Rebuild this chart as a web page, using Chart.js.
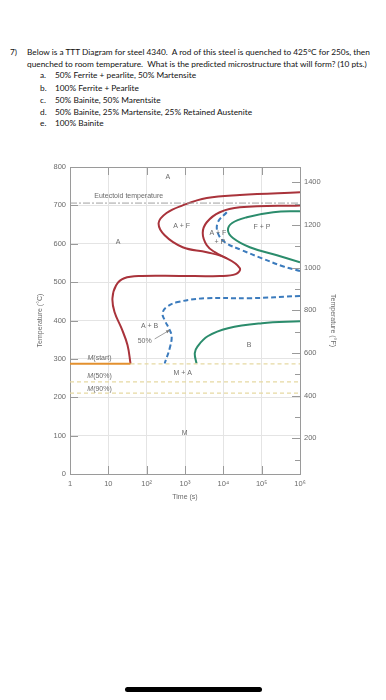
<!DOCTYPE html>
<html>
<head>
<meta charset="utf-8">
<script src="https://cdn.jsdelivr.net/npm/chart.js@4.4.1/dist/chart.umd.min.js"></script>
<style>
  body { margin: 0; width: 386px; height: 700px; background: #fff; position: relative; overflow: hidden; }
  .q { position: absolute; font-family: Lato, "Open Sans", sans-serif; font-size: 9px; color: #111; white-space: nowrap; line-height: 12px; }
  #chart { position: absolute; left: 0; top: 150px; }
  #homebar { position: absolute; left: 125px; top: 687px; width: 137px; height: 5px; border-radius: 3px; background: #000; }
</style>
</head>
<body>
<div class="q" style="left:10px;top:46px">7)</div>
<div class="q" id="firstLine" style="left:27px;top:46px">Below is a TTT Diagram for steel 4340.&nbsp; A rod of this steel is quenched to 425°C for 250s, then</div>
<div class="q" style="left:27px;top:58px">quenched to room temperature.&nbsp; What is the predicted microstructure that will form? (10 pts.)</div>
<div class="q" style="left:40px;top:69px">a.</div><div class="q" style="left:55px;top:69px">50% Ferrite + pearlite, 50% Martensite</div>
<div class="q" style="left:40px;top:82px">b.</div><div class="q" style="left:55px;top:82px">100% Ferrite + Pearlite</div>
<div class="q" style="left:40px;top:94px">c.</div><div class="q" style="left:55px;top:94px">50% Bainite, 50% Marentsite</div>
<div class="q" style="left:40px;top:106px">d.</div><div class="q" style="left:55px;top:106px">50% Bainite, 25% Martensite, 25% Retained Austenite</div>
<div class="q" style="left:40px;top:117px">e.</div><div class="q" style="left:55px;top:117px">100% Bainite</div>

<canvas id="chart" width="386" height="360"></canvas>
<div id="homebar"></div>

<script>
// TTT diagram, steel 4340 - time in seconds, temperature in degC

const timeTicks = [1, 10, 100, 1000, 10000, 100000, 1000000];
const timeTickLabels = ['1', '10', '10²', '10³', '10⁴', '10⁵', '10⁶'];
const fahrenheitTicks = [100, 200, 300, 400, 500, 600, 700, 800, 900, 1000, 1100, 1200, 1300, 1400];

// outer start curve (red)
const startTime = [1e6, 27000, 3700, 870, 330, 205, 295, 870, 3700, 12300, 27000, 21000, 8100, 720, 74, 26, 16, 12.8, 14.5, 22, 31.6, 38];
const startTemp = [734, 727, 719, 700, 680, 654, 622, 591, 578, 562, 536, 521, 516, 516, 516, 510, 492, 458, 422, 380, 336, 287];

// inner pearlite start loop (red)
const pearliteTime = [1e6, 27000, 8100, 3700, 2900, 3700, 6000, 12300];
const pearliteTemp = [700, 695, 682, 656, 628, 596, 578, 562];

// 50% curves (blue dashed)
const halfUpperTime = [12300, 7200, 7200, 11000, 31000, 102000, 340000, 1e6];
const halfUpperTemp = [682, 656, 628, 604, 583, 562, 542, 529];
const halfLowerTime = [1e6, 49000, 3300, 650, 330, 260, 295, 400, 450, 400, 295];
const halfLowerTemp = [464, 458, 458, 448, 435, 419, 401, 375, 357, 328, 288];

// finish curves (green)
const endUpperTime = [1e6, 200000, 41000, 17000, 13200, 17800, 49000, 250000, 1e6];
const endUpperTemp = [685, 682, 669, 654, 635, 615, 591, 570, 552];
const endLowerTime = [1e6, 102000, 13200, 3900, 2150, 1800, 2000];
const endLowerTemp = [398, 393, 380, 359, 333, 315, 288];

// martensite lines
const msTemp = 287;
const m50Temp = 240;
const m90Temp = 211;
const msEndTime = 38;
const eutectoidTemp = 706;

const arrowTime = [162, 400];
const arrowTemp = [352, 375];

const regionLabels = [
  ['A', 355, 773],
  ['A', 18, 604],
  ['Eutectoid temperature', 34, 724],
  ['A + F', 815, 646],
  ['A + F', 7200, 628],
  ['+ P', 8100, 604],
  ['F + P', 102000, 643],
  ['A + B', 119, 385],
  ['50%', 89, 346],
  ['B', 47000, 336],
  ['M + A', 870, 263],
  ['M', 980, 107]
];
const martensiteLabels = [
  ['(start)', 5.9, 302],
  ['(50%)', 5.9, 255],
  ['(90%)', 5.9, 221]
];

const RED = '#a9333b';
const BLUE = '#3b7bbd';
const GREEN = '#2b8c6c';
const PALE = '#e6d9a2';
const AXIS = '#9a9a9a';
const TEXT = '#6b6b6b';
const FONT = 'Liberation Sans, Arial, sans-serif';

// shrink question text so the first line spans the same width as the scan
const firstLine = document.getElementById('firstLine');
const fitSize = 9 * 343 / firstLine.getBoundingClientRect().width;
document.querySelectorAll('.q').forEach(el => { el.style.fontSize = fitSize + 'px'; });

function pts(xs, ys) {
  return xs.map((x, i) => ({ x: x, y: ys[i] }));
}

function curve(data, color, dash) {
  return {
    data: data,
    showLine: true,
    borderColor: color,
    borderWidth: 2,
    borderDash: dash || [],
    pointRadius: 0,
    tension: 0.4,
    fill: false
  };
}

function flatLine(t0, t1, temp, color, dash, width) {
  return {
    data: [{ x: t0, y: temp }, { x: t1, y: temp }],
    showLine: true,
    borderColor: color,
    borderWidth: width,
    borderDash: dash,
    pointRadius: 0,
    tension: 0,
    fill: false
  };
}

// inward ticks + top border + text labels
const decorPlugin = {
  id: 'decor',
  afterDatasetsDraw(chart) {
    const ctx = chart.ctx;
    const a = chart.chartArea;
    const x = chart.scales.x, y = chart.scales.y, yF = chart.scales.yF;
    ctx.save();
    ctx.strokeStyle = AXIS;
    ctx.lineWidth = 1;
    ctx.beginPath();
    ctx.moveTo(a.left, a.top + 0.5);
    ctx.lineTo(a.right, a.top + 0.5);
    y.ticks.forEach(t => {
      const py = Math.round(y.getPixelForValue(t.value)) + 0.5;
      ctx.moveTo(a.left, py);
      ctx.lineTo(a.left + 8, py);
    });
    timeTicks.forEach(v => {
      const px = Math.round(x.getPixelForValue(v)) + 0.5;
      ctx.moveTo(px, a.bottom);
      ctx.lineTo(px, a.bottom - 8);
      ctx.moveTo(px, a.top);
      ctx.lineTo(px, a.top + 8);
    });
    fahrenheitTicks.forEach(v => {
      const py = Math.round(yF.getPixelForValue(v)) + 0.5;
      ctx.moveTo(a.right, py);
      ctx.lineTo(a.right - (v % 200 === 0 ? 8 : 5), py);
    });
    ctx.stroke();

    ctx.fillStyle = TEXT;
    ctx.textAlign = 'center';
    ctx.textBaseline = 'middle';
    ctx.font = '7px ' + FONT;
    regionLabels.forEach(l => {
      ctx.fillText(l[0], x.getPixelForValue(l[1]), y.getPixelForValue(l[2]));
    });

    martensiteLabels.forEach(l => {
      const cx = x.getPixelForValue(l[1]);
      const cy = y.getPixelForValue(l[2]);
      ctx.font = 'italic 7px ' + FONT;
      const wm = ctx.measureText('M').width;
      ctx.font = '7px ' + FONT;
      const wr = ctx.measureText(l[0]).width;
      const left = cx - (wm + wr) / 2;
      ctx.textAlign = 'left';
      ctx.font = 'italic 7px ' + FONT;
      ctx.fillText('M', left, cy);
      ctx.font = '7px ' + FONT;
      ctx.fillText(l[0], left + wm, cy);
    });

    // arrow head for the 50% pointer
    const x0 = x.getPixelForValue(arrowTime[0]), y0 = y.getPixelForValue(arrowTemp[0]);
    const x1 = x.getPixelForValue(arrowTime[1]), y1 = y.getPixelForValue(arrowTemp[1]);
    const ang = Math.atan2(y1 - y0, x1 - x0);
    ctx.fillStyle = '#777';
    ctx.beginPath();
    ctx.moveTo(x1, y1);
    ctx.lineTo(x1 - 4 * Math.cos(ang - 0.4), y1 - 4 * Math.sin(ang - 0.4));
    ctx.lineTo(x1 - 4 * Math.cos(ang + 0.4), y1 - 4 * Math.sin(ang + 0.4));
    ctx.closePath();
    ctx.fill();
    ctx.restore();
  }
};

const datasets = [
  flatLine(1, 1e6, eutectoidTemp, '#a0a0a0', [7, 2, 2, 2], 1),
  flatLine(msEndTime, 1e6, msTemp, PALE, [4, 3], 1.2),
  flatLine(1, 1e6, m50Temp, PALE, [4, 3], 1.2),
  flatLine(1, 1e6, m90Temp, PALE, [4, 3], 1.2),
  flatLine(1, msEndTime, msTemp, '#e3902e', [], 2),
  {
    data: pts(arrowTime, arrowTemp),
    showLine: true, borderColor: '#888', borderWidth: 0.8, pointRadius: 0, tension: 0
  },
  curve(pts(startTime, startTemp), RED),
  curve(pts(pearliteTime, pearliteTemp), RED),
  curve(pts(halfUpperTime, halfUpperTemp), BLUE, [5, 3]),
  curve(pts(halfLowerTime, halfLowerTemp), BLUE, [5, 3]),
  curve(pts(endUpperTime, endUpperTemp), GREEN),
  curve(pts(endLowerTime, endLowerTemp), GREEN)
];

new Chart(document.getElementById('chart'), {
  type: 'scatter',
  data: { datasets: datasets },
  options: {
    responsive: false,
    animation: false,
    layout: { padding: { top: 17, left: 0, right: 0, bottom: 0 } },
    plugins: { legend: { display: false }, tooltip: { enabled: false } },
    scales: {
      x: {
        type: 'logarithmic',
        position: 'bottom',
        min: 1,
        max: 1e6,
        afterBuildTicks: s => { s.ticks = timeTicks.map(v => ({ value: v })); },
        afterFit: s => { s.height = 36; },
        grid: { color: '#e4e4e4', drawTicks: false },
        border: { color: AXIS },
        ticks: {
          color: TEXT, font: { size: 7.5, family: FONT }, padding: 5,
          maxRotation: 0, autoSkip: false,
          callback: (v, i) => timeTickLabels[i]
        },
        title: { display: true, text: 'Time (s)', color: TEXT, font: { size: 7, family: FONT }, padding: { top: 0, bottom: 9 } }
      },
      y: {
        position: 'left',
        min: 0,
        max: 800,
        afterFit: s => { s.width = 70; },
        grid: { color: '#e4e4e4', drawTicks: false },
        border: { color: AXIS },
        ticks: { stepSize: 100, color: TEXT, font: { size: 7.5, family: FONT }, padding: 4 },
        title: { display: true, text: 'Temperature (°C)', color: TEXT, font: { size: 7, family: FONT }, padding: { top: 36, bottom: 0 } }
      },
      yF: {
        position: 'right',
        min: 32,
        max: 1472,
        afterBuildTicks: s => { s.ticks = fahrenheitTicks.map(v => ({ value: v })); },
        afterFit: s => { s.width = 86; },
        grid: { drawOnChartArea: false, drawTicks: false },
        border: { color: AXIS },
        ticks: {
          color: TEXT, font: { size: 7.5, family: FONT }, padding: 4, autoSkip: false,
          callback: v => (v % 200 === 0 ? String(v) : '')
        },
        title: { display: true, text: 'Temperature (°F)', color: TEXT, font: { size: 7, family: FONT }, padding: { top: 49, bottom: 0 } }
      }
    }
  },
  plugins: [decorPlugin]
});
</script>
</body>
</html>
